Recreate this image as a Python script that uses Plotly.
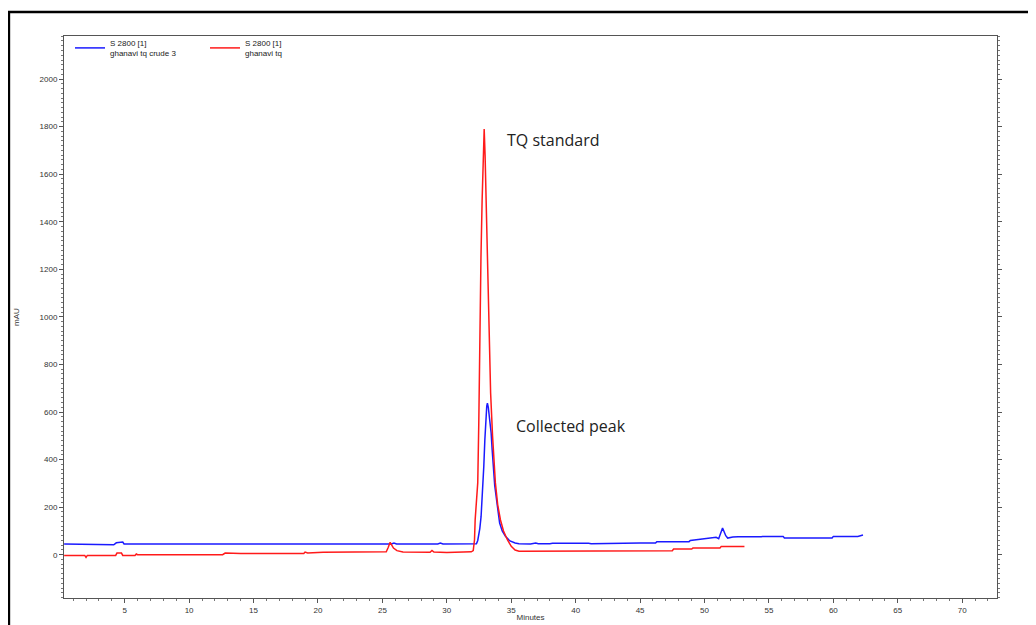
import plotly.graph_objects as go

# ---- data ----
crude_t = [0.3, 4.05, 4.15, 4.35, 4.6, 4.85, 4.95, 10, 15, 20, 25.7, 25.9, 26.1, 29.3, 29.5, 29.7,
           32.0, 32.3, 32.4, 32.47, 32.56, 32.66, 32.77, 32.87, 32.95, 33.03, 33.1, 33.15, 33.22, 33.3,
           33.44, 33.52, 33.6, 33.72, 33.86, 33.98, 34.1, 34.3, 34.55, 34.9, 35.3, 35.6,
           36.5, 36.9, 37.1, 38.0, 38.2, 41.0, 41.2, 45.0, 46.2, 46.3, 48.8, 48.9, 50.5, 50.9, 51.1, 51.4,
           51.65, 51.8, 52.2, 52.6, 54.4, 54.5, 56.1, 56.2, 59.9, 60.0, 61.9, 62.3]
crude_v = [45, 45, 42, 50, 51, 53, 45, 45, 45, 45, 45, 49, 45, 45, 49, 45,
           45, 46, 60, 77, 110, 161, 260, 371, 480, 580, 625, 637, 620, 580,
           512, 440, 371, 290, 231, 175, 133, 100, 77, 58, 49, 46,
           45, 49, 46, 46, 48, 48, 46, 49, 49, 55, 55, 60, 68, 73, 67, 112,
           80, 70, 74, 76, 76, 77, 77, 70, 70, 77, 77, 83]

std_t = [0.3, 1.9, 2.0, 2.1, 4.3, 4.4, 4.75, 4.85, 5.8, 5.9, 6.0, 12.6, 12.8, 13.3, 13.5, 14.0, 14.4,
         18.9, 19.0, 19.2, 20.4, 23.3, 25.3, 25.45, 25.6, 25.86, 26.13, 26.6, 28.7, 28.85, 29.0, 30.0,
         31.9, 32.05, 32.1, 32.15, 32.2, 32.3, 32.4, 32.48, 32.55, 32.65, 32.74, 32.82, 32.9, 32.97,
         33.05, 33.15, 33.25, 33.4, 33.55, 33.77, 33.95, 34.16, 34.4, 34.7, 35.0, 35.3, 35.6,
         40, 45, 47.5, 47.6, 49.0, 49.1, 51.2, 51.3, 53.1]
std_v = [-3, -3, -11, -3, -3, 7, 7, -3, -3, 3, 0, 0, 7, 5, 7, 5, 5,
         5, 11, 7, 10, 11, 12, 30, 52, 28, 17, 11, 10, 18, 11, 9,
         12, 17, 35, 63, 147, 220, 302, 550, 933, 1250, 1490, 1680, 1790, 1680,
         1490, 1200, 933, 680, 500, 302, 210, 147, 100, 63, 35, 20, 15,
         15, 17, 17, 24, 24, 28, 28, 35, 35]

legend_names = ["S 2800 [1]<br>ghanavi tq crude 3", "S 2800 [1]<br>ghanavi tq"]
x_ticks = [5, 10, 15, 20, 25, 30, 35, 40, 45, 50, 55, 60, 65, 70]
y_ticks = [0, 200, 400, 600, 800, 1000, 1200, 1400, 1600, 1800, 2000]
x_range = [0.29, 72.7]
y_range = [-182, 2181]

# page body has an 8px margin, so the figure is laid out 8px up/left of screen coords
OFF = 8
W, H = 1028, 617
ML, MR, MT, MB = 64 - OFF, 39, 36 - OFF, 27
PW, PH = W - ML - MR, H - MT - MB

fig = go.Figure()
fig.add_trace(go.Scatter(x=crude_t, y=crude_v, mode="lines", name=legend_names[0],
                         line=dict(color="#1a1aff", width=1.5)))
fig.add_trace(go.Scatter(x=std_t, y=std_v, mode="lines", name=legend_names[1],
                         line=dict(color="#ff1a1a", width=1.5)))

ann_font = dict(family="Open Sans, Liberation Sans, Arial", size=16, color="#222222")
fig.add_annotation(x=34.55, y=1744, text="TQ standard", showarrow=False, xanchor="left",
                   yanchor="middle", font=ann_font)
fig.add_annotation(x=35.25, y=542, text="Collected peak", showarrow=False, xanchor="left",
                   yanchor="middle", font=ann_font)

# outer black frame (document border)
fx0 = (8 - OFF - ML) / PW + 0.001
fy0 = 1 + (MT - (12 - OFF)) / PH
fig.add_shape(type="path", xref="paper", yref="paper",
              path=f"M {fx0} -0.2 L {fx0} {fy0} L 1.2 {fy0}",
              line=dict(color="black", width=2.5))

tick_font = dict(family="Liberation Sans Narrow, Liberation Sans, Arial", size=8, color="#333333")
fig.update_layout(
    width=W, height=H, template=None,
    margin=dict(l=ML, r=MR, t=MT, b=MB, autoexpand=False),
    paper_bgcolor="white", plot_bgcolor="white",
    showlegend=True,
    legend=dict(orientation="h", x=(70 - 64) / PW, xanchor="left", y=1 + 5 / PH, yanchor="top",
                font=dict(family="Liberation Sans, Arial", size=8, color="#222222"),
                entrywidth=90, entrywidthmode="pixels", bgcolor="rgba(0,0,0,0)",
                itemwidth=30),
    xaxis=dict(range=x_range, tickvals=x_ticks, ticktext=[str(v) for v in x_ticks],
               showgrid=False, zeroline=False, showline=True, linecolor="#555555", linewidth=1,
               mirror=True, ticks="outside", ticklen=4, tickcolor="#555555",
               minor=dict(dtick=1, ticks="outside", ticklen=2, tickcolor="#777777"),
               tickfont=tick_font, automargin=False,
               title=dict(text="Minutes", font=dict(family="Liberation Sans, Arial", size=8, color="#333333"),
                          standoff=0)),
    yaxis=dict(range=y_range, tickvals=y_ticks, ticktext=[str(v) for v in y_ticks],
               showgrid=False, zeroline=False, showline=True, linecolor="#555555", linewidth=1,
               mirror="ticks", ticks="outside", ticklen=4, tickcolor="#555555",
               minor=dict(dtick=20, tick0=0, ticks="outside", ticklen=2, tickcolor="#777777"),
               tickfont=tick_font, automargin=False,
               title=dict(text="mAU", font=dict(family="Liberation Sans, Arial", size=8, color="#333333"),
                          standoff=18)),
)

fig.write_html("out.html")
